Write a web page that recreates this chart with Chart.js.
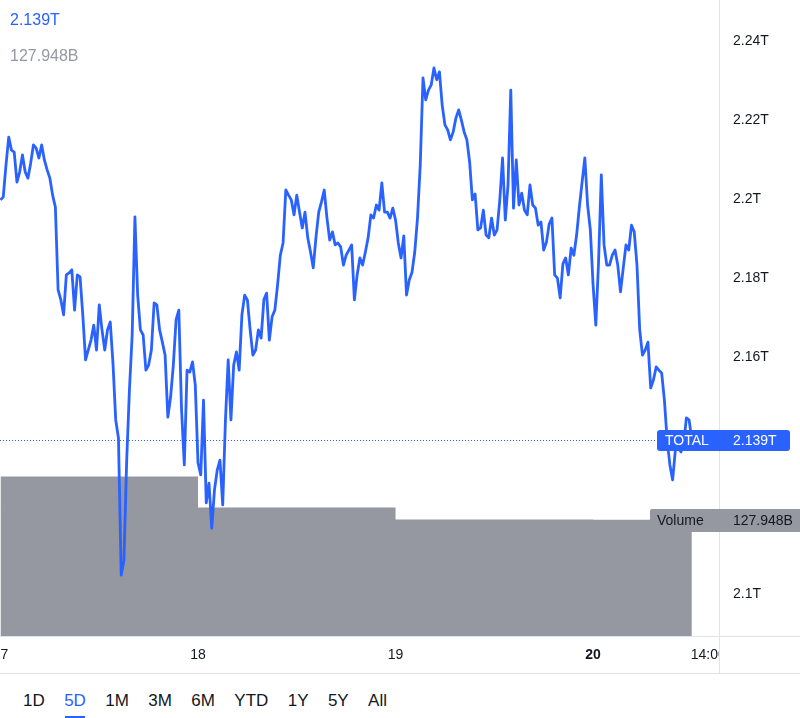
<!DOCTYPE html>
<html>
<head>
<meta charset="utf-8">
<title>TOTAL · 5D</title>
<script src="https://cdn.jsdelivr.net/npm/chart.js@4.4.1/dist/chart.umd.min.js"></script>
<style>
    html, body { margin: 0; padding: 0; background: #fff; }
    body { position: relative; width: 800px; height: 718px; overflow: hidden; font-family: 'Liberation Sans', Arial, sans-serif; }
    #chart { position: absolute; left: 0; top: 0; }
    .legend { position: absolute; left: 10px; font-size: 16px; line-height: 16px; }
    #last-price { top: 12px; color: #2962ff; }
    #last-volume { top: 48px; color: #9598a1; }
    #ranges { position: absolute; left: 23px; top: 690px; display: flex; gap: 19.4px; font-size: 17px; line-height: 22px; color: #131722; }
    #ranges span { position: relative; }
    #ranges .active { color: #2962ff; }
    #ranges .active::after { content: ''; position: absolute; left: 1px; right: 1px; bottom: -6px; height: 2px; background: #2962ff; }
</style>
</head>
<body>
<canvas id="chart" width="800" height="674"></canvas>
<div class="legend" id="last-price"></div>
<div class="legend" id="last-volume"></div>
<div id="ranges"></div>

<script>
/**
 * TOTAL crypto market cap, 5 day view (20 minute closes) with daily volume.
 */

const FONT = "'Liberation Sans', Arial, sans-serif";
const SYMBOL = 'TOTAL';

// Hours counted from the 17th, 00:00.
const PRICE_START_HOUR = 0;
const PRICE_STEP_HOURS = 1 / 3;

// Market cap, trillions USD.
const PRICE = [
    2.1998, 2.2005, 2.2086, 2.2157, 2.2124, 2.2119, 2.2043, 2.2069, 2.2112, 2.2069, 2.2053, 2.2091,
    2.2137, 2.2129, 2.2104, 2.2137, 2.2099, 2.2074, 2.2053, 2.2010, 2.1980, 2.1770, 2.1745, 2.1707,
    2.1808, 2.1813, 2.1821, 2.1719, 2.1808, 2.1803, 2.1707, 2.1593, 2.1618, 2.1643, 2.1681, 2.1618,
    2.1732, 2.1669, 2.1618, 2.1669, 2.1689, 2.1585, 2.1441, 2.1395, 2.1048, 2.1086, 2.1339, 2.1517,
    2.1656, 2.1955, 2.1757, 2.1669, 2.1656, 2.1567, 2.1580, 2.1618, 2.1737, 2.1732, 2.1669, 2.1638,
    2.1605, 2.1448, 2.1499, 2.1580, 2.1694, 2.1719, 2.1466, 2.1327, 2.1567, 2.1562, 2.1588, 2.1529,
    2.1332, 2.1302, 2.1491, 2.1231, 2.1281, 2.1167, 2.1264, 2.1314, 2.1339, 2.1226, 2.1441, 2.1593,
    2.1441, 2.1580, 2.1613, 2.1567, 2.1707, 2.1757, 2.1745, 2.1669, 2.1605, 2.1618, 2.1669, 2.1648,
    2.1745, 2.1762, 2.1643, 2.1702, 2.1719, 2.1783, 2.1858, 2.1889, 2.2023, 2.2010, 2.1998, 2.1960,
    2.2010, 2.1967, 2.1927, 2.1967, 2.1902, 2.1866, 2.1826, 2.1904, 2.1967, 2.1993, 2.2023, 2.1952,
    2.1896, 2.1917, 2.1884, 2.1889, 2.1879, 2.1833, 2.1858, 2.1871, 2.1884, 2.1745, 2.1808, 2.1851,
    2.1833, 2.1866, 2.1902, 2.1960, 2.1952, 2.1985, 2.1972, 2.2041, 2.1967, 2.1967, 2.1952, 2.1977,
    2.1947, 2.1889, 2.1851, 2.1907, 2.1757, 2.1795, 2.1815, 2.1866, 2.1952, 2.2086, 2.2307, 2.2251,
    2.2276, 2.2289, 2.2332, 2.2302, 2.2322, 2.2238, 2.2188, 2.2175, 2.2150, 2.2170, 2.2205, 2.2226,
    2.2200, 2.2170, 2.2150, 2.2094, 2.1998, 2.2013, 2.1922, 2.1927, 2.1972, 2.1909, 2.1902, 2.1952,
    2.1909, 2.1922, 2.1998, 2.2104, 2.1947, 2.2036, 2.2276, 2.1977, 2.2099, 2.1985, 2.2015, 2.1972,
    2.1960, 2.2036, 2.1985, 2.1977, 2.1934, 2.1942, 2.1871, 2.1891, 2.1937, 2.1952, 2.1808, 2.1800,
    2.1750, 2.1836, 2.1851, 2.1808, 2.1876, 2.1858, 2.1909, 2.1980, 2.2043, 2.2104, 2.1985, 2.1922,
    2.1783, 2.1681, 2.1841, 2.2061, 2.1884, 2.1833, 2.1833, 2.1858, 2.1871, 2.1833, 2.1765, 2.1826,
    2.1884, 2.1871, 2.1934, 2.1917, 2.1833, 2.1669, 2.1605, 2.1618, 2.1638, 2.1522, 2.1542, 2.1575,
    2.1567, 2.1560, 2.1491, 2.1390, 2.1327, 2.1289, 2.1365, 2.1372, 2.1360, 2.1377, 2.1446, 2.1441,
    2.1390,
];

// Daily volume, billions USD (one bar per day, the last one still open).
const VOLUME_HOURS = [0, 24, 48, 72];
const VOLUME = [175.5, 141.5, 128.1, 127.948];

// Axis window and labels.
const X_MIN = -0.06;
const X_MAX = 87.3;
const X_TICKS = [0, 24, 48, 72, 86];
const X_TICK_LABELS = ['17', '18', '19', '20', '14:00'];
const X_TICK_BOLD = [false, false, false, true, false];

const Y_MIN = 2.0894;
const Y_MAX = 2.2504;
const Y_TICKS = [2.10, 2.12, 2.14, 2.16, 2.18, 2.20, 2.22, 2.24];
const VOLUME_AXIS_MAX = 700;

const RANGES = ['1D', '5D', '1M', '3M', '6M', 'YTD', '1Y', '5Y', 'All'];
const ACTIVE_RANGE = '5D';

const BLUE = '#2962ff';
const VOLUME_GREY = '#9598a1';
const TEXT = '#131722';
const BORDER = '#e0e3eb';

const fmtT = v => +v.toFixed(3) + 'T';
const fmtB = v => v.toFixed(3) + 'B';

const lastPrice = PRICE[PRICE.length - 1];
const lastVolume = VOLUME[VOLUME.length - 1];


function roundRect(ctx, x, y, w, h, r) {
    ctx.beginPath();
    ctx.moveTo(x + r, y);
    ctx.lineTo(x + w - r, y);
    ctx.arcTo(x + w, y, x + w, y + r, r);
    ctx.lineTo(x + w, y + h - r);
    ctx.arcTo(x + w, y + h, x + w - r, y + h, r);
    ctx.lineTo(x + r, y + h);
    ctx.arcTo(x, y + h, x, y + h - r, r);
    ctx.lineTo(x, y + r);
    ctx.arcTo(x, y, x + r, y, r);
    ctx.closePath();
}


// Price line marker, pane borders and the two value tags on the price scale.
const paneOverlay = {
    id: 'paneOverlay',
    beforeDatasetsDraw(chart) {
        const { ctx, chartArea: a, scales } = chart;
        const py = Math.round(scales.y.getPixelForValue(lastPrice)) + 0.5;
        ctx.save();
        ctx.strokeStyle = BLUE;
        ctx.lineWidth = 1;
        ctx.setLineDash([1, 2]);
        ctx.beginPath();
        ctx.moveTo(a.left, py);
        ctx.lineTo(a.right, py);
        ctx.stroke();
        ctx.restore();
    },
    afterDraw(chart) {
        const { ctx, chartArea: a, scales } = chart;
        const W = chart.width, H = chart.height;
        const py = Math.round(scales.y.getPixelForValue(lastPrice));
        const vy = Math.round(scales.yVol.getPixelForValue(lastVolume));

        ctx.save();
        // time labels stop at the price scale
        ctx.fillStyle = '#fff';
        ctx.fillRect(a.right + 1, a.bottom + 1, W - a.right, H - a.bottom - 2);

        ctx.strokeStyle = BORDER;
        ctx.lineWidth = 1;
        ctx.beginPath();
        ctx.moveTo(a.right + 0.5, 0); ctx.lineTo(a.right + 0.5, H);
        ctx.moveTo(0, a.bottom + 0.5); ctx.lineTo(W, a.bottom + 0.5);
        ctx.moveTo(0, H - 0.5); ctx.lineTo(W, H - 0.5);
        ctx.stroke();

        ctx.font = `14px ${FONT}`;
        ctx.textBaseline = 'middle';
        ctx.textAlign = 'left';

        // volume tag
        ctx.fillStyle = VOLUME_GREY;
        roundRect(ctx, a.right - 69, vy - 11, W - (a.right - 69) + 4, 23, 2);
        ctx.fill();
        ctx.fillStyle = TEXT;
        ctx.fillText('Volume', a.right - 62, vy + 1);
        ctx.fillText(fmtB(lastVolume), a.right + 14, vy + 1);

        // price tag
        ctx.fillStyle = BLUE;
        roundRect(ctx, a.right - 62, py - 10, 133, 21, 3);
        ctx.fill();
        ctx.fillStyle = '#fff';
        ctx.fillText(SYMBOL, a.right - 54, py + 1);
        ctx.fillText(fmtT(lastPrice), a.right + 14, py + 1);
        ctx.restore();
    },
};


function renderChart() {
    const priceData = PRICE.map((v, i) => ({ x: PRICE_START_HOUR + i * PRICE_STEP_HOURS, y: v }));
    const lastHour = priceData[priceData.length - 1].x;
    // the open day's bar runs up to the latest close
    const volumeData = VOLUME_HOURS.map((h, i) => ({ x: h, y: VOLUME[i] }))
        .concat([{ x: lastHour, y: lastVolume }]);

    new Chart(document.getElementById('chart'), {
        type: 'line',
        data: {
            datasets: [
                {
                    label: SYMBOL,
                    data: priceData,
                    borderColor: BLUE,
                    borderWidth: 2.8,
                    borderJoinStyle: 'round',
                    pointRadius: 0,
                    tension: 0,
                    order: 1,
                },
                {
                    label: 'Volume',
                    data: volumeData,
                    yAxisID: 'yVol',
                    stepped: 'before',
                    fill: 'origin',
                    backgroundColor: VOLUME_GREY,
                    borderWidth: 0,
                    pointRadius: 0,
                    order: 2,
                },
            ],
        },
        options: {
            responsive: false,
            devicePixelRatio: 1,
            animation: false,
            events: [],
            layout: { padding: 0 },
            plugins: { legend: { display: false }, tooltip: { enabled: false } },
            scales: {
                x: {
                    type: 'linear',
                    min: X_MIN,
                    max: X_MAX,
                    grid: { display: false, drawTicks: false },
                    border: { display: false },
                    afterBuildTicks: s => { s.ticks = X_TICKS.map(v => ({ value: v })); },
                    afterFit: s => { s.height = 38; s.paddingLeft = 0; s.paddingRight = 0; },
                    ticks: {
                        autoSkip: false,
                        maxRotation: 0,
                        padding: 11,
                        color: TEXT,
                        font: c => ({
                            family: FONT,
                            size: 14,
                            weight: X_TICK_BOLD[X_TICKS.indexOf(c.tick ? c.tick.value : -1)] ? 'bold' : 'normal',
                        }),
                        callback: v => X_TICK_LABELS[X_TICKS.indexOf(v)] ?? '',
                    },
                },
                y: {
                    position: 'right',
                    min: Y_MIN,
                    max: Y_MAX,
                    grid: { display: false, drawTicks: false },
                    border: { display: false },
                    afterBuildTicks: s => { s.ticks = Y_TICKS.map(v => ({ value: v })); },
                    afterFit: s => { s.width = 81; s.paddingTop = 0; s.paddingBottom = 0; },
                    ticks: {
                        padding: 14,
                        color: TEXT,
                        font: { family: FONT, size: 14 },
                        callback: v => +v.toFixed(2) + 'T',
                    },
                },
                yVol: {
                    axis: 'y',
                    display: false,
                    min: 0,
                    max: VOLUME_AXIS_MAX,
                },
            },
        },
        plugins: [paneOverlay],
    });
}


function renderHeader() {
    document.getElementById('last-price').textContent = fmtT(lastPrice);
    document.getElementById('last-volume').textContent = fmtB(lastVolume);
    document.getElementById('ranges').innerHTML = RANGES
        .map(r => `<span class="${r === ACTIVE_RANGE ? 'active' : ''}">${r}</span>`)
        .join('');
}


renderHeader();
renderChart();
</script>
</body>
</html>
